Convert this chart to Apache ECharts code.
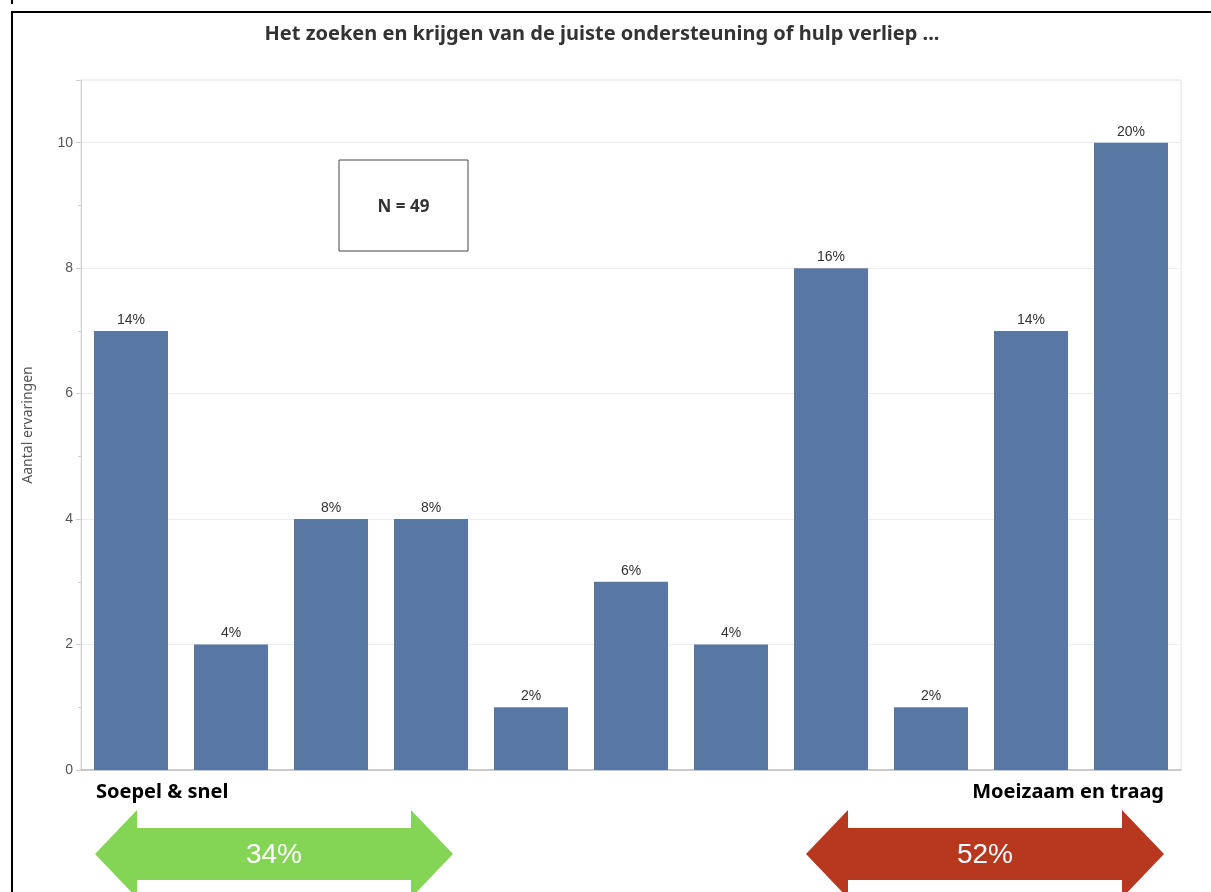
<!DOCTYPE html>
<html>
<head>
<meta charset="utf-8">
<script src="https://cdn.jsdelivr.net/npm/echarts@6/dist/echarts.min.js"></script>
<style>
html,body{margin:0;padding:0;background:#fff;}
#c{width:1211px;height:892px;}
</style>
</head>
<body>
<div id="c"></div>
<script>
const categories = ['1','2','3','4','5','6','7','8','9','10','11'];
const values = [7, 2, 4, 4, 1, 3, 2, 8, 1, 7, 10];
const percentLabels = ['14%','4%','8%','8%','2%','6%','4%','16%','2%','14%','20%'];
const yTickLabels = ['0','2','4','6','8','10'];
const titleText = 'Het zoeken en krijgen van de juiste ondersteuning of hulp verliep ...';
const yAxisName = 'Aantal ervaringen';
const nText = 'N = 49';
const leftLabel = 'Soepel & snel';
const rightLabel = 'Moeizaam en traag';
const leftShare = '34%';
const rightShare = '52%';

function doubleArrow(x1, x2, cy, shaftHalf, headHalf, headLen) {
  return [
    [x1, cy], [x1 + headLen, cy - headHalf], [x1 + headLen, cy - shaftHalf],
    [x2 - headLen, cy - shaftHalf], [x2 - headLen, cy - headHalf], [x2, cy],
    [x2 - headLen, cy + headHalf], [x2 - headLen, cy + shaftHalf],
    [x1 + headLen, cy + shaftHalf], [x1 + headLen, cy + headHalf]
  ];
}

const chart = echarts.init(document.getElementById('c'));
const font = '"Noto Sans", "Open Sans", sans-serif';
const sans = '"Liberation Sans", Arial, sans-serif';
chart.setOption({
  animation: false,
  backgroundColor: '#fff',
  title: {
    text: titleText, left: 597, top: 19, textAlign: 'center',
    textStyle: {fontFamily: font, fontSize: 20, fontWeight: 'bold', color: '#333'}
  },
  grid: {left: 81, right: 30, top: 80, bottom: 122, show: true, borderColor: '#e2e2e2', borderWidth: 1},
  xAxis: {
    type: 'category', data: categories,
    axisLine: {show: true, lineStyle: {color: '#bdbdbd', width: 1.5}},
    axisTick: {show: false}, axisLabel: {show: false}
  },
  yAxis: [{
    type: 'value', min: 0, max: 11, interval: 1,
    name: yAxisName, nameLocation: 'middle', nameGap: 46, nameRotate: 90,
    nameTextStyle: {fontFamily: font, fontSize: 14, color: '#555'},
    axisLine: {show: true, lineStyle: {color: '#d0d0d0'}},
    axisTick: {show: true, length: 3, lineStyle: {color: '#d0d0d0'}},
    axisLabel: {
      fontFamily: sans, fontSize: 14, color: '#555', margin: 8,
      formatter: v => (yTickLabels.indexOf(String(v)) >= 0 ? String(v) : '')
    },
    splitLine: {show: true, lineStyle: {color: ['#ececec', 'rgba(0,0,0,0)']}}
  }, {
    type: 'value', min: 0, max: 11, interval: 2, position: 'left',
    axisLine: {show: false}, axisLabel: {show: false}, splitLine: {show: false},
    axisTick: {show: true, length: 5, lineStyle: {color: '#d0d0d0'}}
  }],
  series: [{
    type: 'bar', data: values, barWidth: '74%', yAxisIndex: 0,
    itemStyle: {color: '#5977a3'},
    label: {
      show: true, position: 'top', distance: 4,
      fontFamily: sans, fontSize: 14, color: '#333',
      formatter: p => percentLabels[p.dataIndex]
    }
  }],
  graphic: [
    {type: 'line', shape: {x1: 11, y1: 12, x2: 1211, y2: 12}, style: {stroke: '#000', lineWidth: 2}},
    {type: 'line', shape: {x1: 12, y1: 12, x2: 12, y2: 892}, style: {stroke: '#000', lineWidth: 2}},
    {type: 'line', shape: {x1: 12, y1: 0, x2: 12, y2: 4}, style: {stroke: '#000', lineWidth: 2}},
    {type: 'rect', shape: {x: 339, y: 160, width: 129, height: 91}, style: {fill: '#fff', stroke: '#444', lineWidth: 1}},
    {type: 'text', x: 403.5, y: 207, style: {text: nText, fontFamily: font, fontSize: 17, fontWeight: 'bold', fill: '#333', align: 'center', verticalAlign: 'middle'}},
    {type: 'text', x: 96, y: 792, style: {text: leftLabel, fontFamily: font, fontSize: 20, fontWeight: 'bold', fill: '#000', align: 'left', verticalAlign: 'middle'}},
    {type: 'text', x: 1164, y: 792, style: {text: rightLabel, fontFamily: font, fontSize: 20, fontWeight: 'bold', fill: '#000', align: 'right', verticalAlign: 'middle'}},
    {type: 'polygon', shape: {points: doubleArrow(95, 453, 854, 26, 44, 42)}, style: {fill: '#84d455'}},
    {type: 'polygon', shape: {points: doubleArrow(806, 1164, 854, 26, 44, 42)}, style: {fill: '#b8371f'}},
    {type: 'text', x: 274, y: 855, style: {text: leftShare, fontFamily: sans, fontSize: 28, fill: '#fff', align: 'center', verticalAlign: 'middle'}},
    {type: 'text', x: 985, y: 855, style: {text: rightShare, fontFamily: sans, fontSize: 28, fill: '#fff', align: 'center', verticalAlign: 'middle'}}
  ]
});
</script>
</body>
</html>
